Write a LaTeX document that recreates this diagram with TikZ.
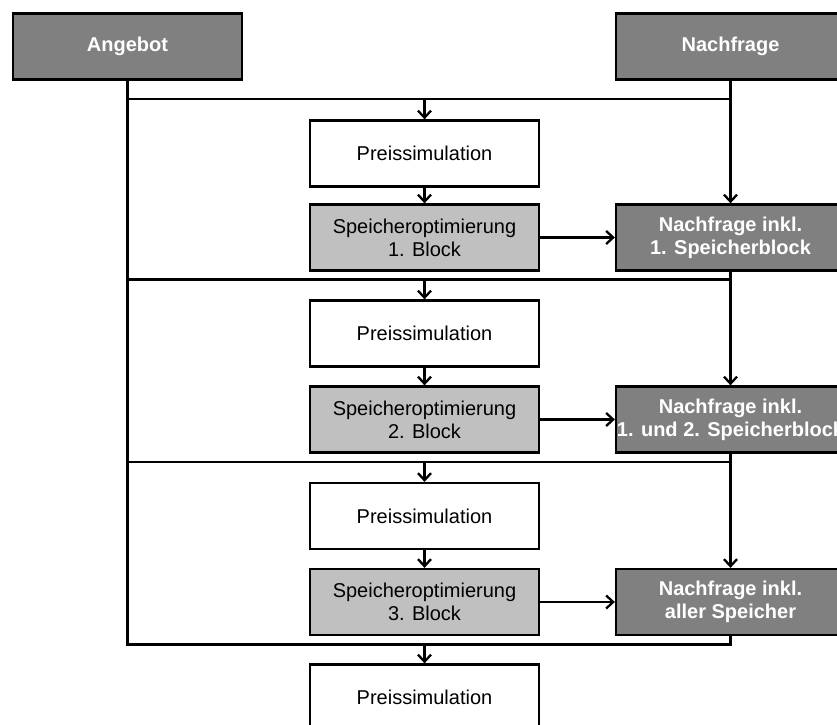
\documentclass[tikz,border=0pt]{standalone}
\usepackage{fontspec}
\setmainfont{Liberation Sans}
\usetikzlibrary{arrows.meta}
\definecolor{boxdark}{HTML}{808080}
\definecolor{boxlight}{HTML}{C0C0C0}

\begin{document}
\begin{tikzpicture}[x=1bp,y=-1bp,
  base/.style={draw=black, line width=2.3bp, minimum width=229bp, minimum height=66bp,
    inner sep=0pt, align=center, font=\fontsize{20bp}{23bp}\selectfont},
  darkbox/.style={base, fill=boxdark, text=white,
    font=\fontsize{20bp}{23bp}\selectfont\bfseries},
  lightbox/.style={base, fill=boxlight},
  whitebox/.style={base, fill=white},
  link/.style={line width=2.3bp, draw=black},
  flow/.style={link, -{Straight Barb[length=7bp,width=13bp]}}
]
\useasboundingbox (0,0) rectangle (837,725);
\clip (0,0) rectangle (837,725);

% supply and demand
\node[darkbox] (ang)  at (127.5,46.5) {Angebot};
\node[darkbox] (nach) at (730.5,46.5) {Nachfrage};

% price simulation / storage optimisation chain
\node[whitebox] (p1) at (424.5,153.5) {Preissimulation};
\node[lightbox] (s1) at (424.5,237.5) {Speicheroptimierung\\1. Block};
\node[whitebox] (p2) at (424.5,333.5) {Preissimulation};
\node[lightbox] (s2) at (424.5,419.5) {Speicheroptimierung\\2. Block};
\node[whitebox] (p3) at (424.5,516) {Preissimulation};
\node[lightbox] (s3) at (424.5,602) {Speicheroptimierung\\3. Block};
\node[whitebox] (p4) at (424.5,697.5) {Preissimulation};

% updated demand
\node[darkbox] (d1) at (730.5,237.5) {Nachfrage inkl.\\1. Speicherblock};
\node[darkbox] (d2) at (730.5,419.5) {Nachfrage inkl.\\1. und 2. Speicherblock};
\node[darkbox] (d3) at (730.5,602) {Nachfrage inkl.\\aller Speicher};

% collector lines
\coordinate (h1L) at (127.5,99);    \coordinate (h1R) at (730.5,99);
\coordinate (h2L) at (127.5,279.5); \coordinate (h2R) at (730.5,279.5);
\coordinate (h3L) at (127.5,462);   \coordinate (h3R) at (730.5,462);
\coordinate (h4L) at (127.5,644.5); \coordinate (h4R) at (730.5,644.5);

\draw[link] (ang.south) -- (h4L) -- (h4R) -- (d3.south);
\draw[link] (h1L) -- (h1R);
\draw[link] (h2L) -- (h2R);
\draw[link] (h3L) -- (h3R);

% demand spine
\draw[flow] (nach.south) -- (d1.north);
\draw[flow] (d1.south) -- (d2.north);
\draw[flow] (d2.south) -- (d3.north);

% into each price simulation
\draw[flow] (p1.north |- h1L) -- (p1.north);
\draw[flow] (p2.north |- h2L) -- (p2.north);
\draw[flow] (p3.north |- h3L) -- (p3.north);
\draw[flow] (p4.north |- h4L) -- (p4.north);

% simulation to optimisation to demand
\draw[flow] (p1.south) -- (s1.north);
\draw[flow] (p2.south) -- (s2.north);
\draw[flow] (p3.south) -- (s3.north);
\draw[flow] (s1.east) -- (d1.west);
\draw[flow] (s2.east) -- (d2.west);
\draw[flow] (s3.east) -- (d3.west);
\end{tikzpicture}
\end{document}
